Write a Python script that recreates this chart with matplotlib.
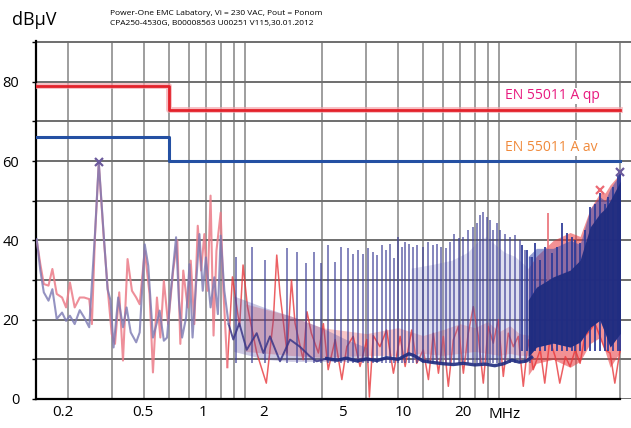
import numpy as np
import matplotlib
matplotlib.use('Agg')
import matplotlib.pyplot as plt
from matplotlib.ticker import NullLocator

plt.rcParams['font.family'] = ['Open Sans', 'DejaVu Sans']

# ---------------- data (MHz, dBuV) ----------------
lim_f = [0.15, 0.5, 30.0]
qp_limit = [79, 73, 73]
av_limit = [66, 60, 60]

# low-frequency part, average-type trace (blue)
f_av_lo = [0.151, 0.156, 0.161, 0.168, 0.174, 0.181, 0.190, 0.197, 0.204, 0.213,
           0.223, 0.232, 0.243, 0.256, 0.265, 0.277, 0.287, 0.295, 0.303, 0.316,
           0.330, 0.341, 0.354, 0.372, 0.384, 0.402, 0.415, 0.433, 0.449, 0.460,
           0.478, 0.492, 0.508, 0.534, 0.548, 0.564, 0.585, 0.603, 0.620, 0.640,
           0.660, 0.680, 0.700, 0.730, 0.755, 0.780, 0.800, 0.827, 0.860]
av_lo = [40.3, 32.4, 26.9, 24.8, 27.7, 20.2, 21.8, 19.7, 21.0, 18.9,
         22.4, 20.6, 18.1, 41.6, 59.7, 41.6, 27.7, 24.8, 13.0, 25.6,
         18.1, 23.1, 16.8, 14.3, 16.8, 39.0, 33.6, 15.5, 19.3, 22.3,
         14.7, 15.5, 26.5, 40.8, 24.8, 15.5, 20.6, 34.0, 15.5, 29.0,
         41.6, 27.3, 35.7, 23.1, 30.7, 21.4, 41.2, 27.3, 18.9]

# low-frequency part, peak-type trace (red)
f_qp_lo = [0.151, 0.156, 0.161, 0.168, 0.174, 0.181, 0.190, 0.197, 0.204, 0.213,
           0.223, 0.232, 0.243, 0.249, 0.256, 0.265, 0.277, 0.287, 0.298, 0.307,
           0.319, 0.330, 0.344, 0.358, 0.372, 0.384, 0.402, 0.420, 0.433, 0.449,
           0.463, 0.478, 0.497, 0.520, 0.540, 0.555, 0.570, 0.593, 0.610, 0.630,
           0.650, 0.670, 0.690, 0.710, 0.730, 0.750, 0.770, 0.800, 0.820, 0.850]
qp_lo = [40.0, 34.0, 29.0, 28.6, 32.8, 26.5, 25.6, 23.1, 29.4, 23.1,
         25.6, 25.6, 25.2, 18.9, 41.0, 59.5, 41.0, 28.2, 16.4, 13.9,
         26.9, 9.7, 35.3, 27.3, 25.6, 23.9, 37.4, 26.5, 6.7, 25.6,
         15.5, 29.8, 18.9, 32.4, 40.0, 13.9, 32.4, 23.1, 34.9, 18.9,
         43.7, 32.4, 41.6, 27.3, 51.3, 16.0, 37.4, 47.0, 27.3, 8.0]

# blue trace 0.9-2 MHz (noisy) and its floor 2-13 MHz
f_av_mid1 = [0.860, 0.897, 0.947, 1.013, 1.109, 1.178, 1.251, 1.370, 1.50, 1.64,
             1.80, 1.91, 2.09]
av_mid1 = [18.9, 15.0, 19.1, 12.4, 16.6, 11.6, 15.8, 9.5, 15.0, 13.2,
           10.7, 9.5, 10.2]
f_av_mid2 = [2.09, 2.3, 2.5, 2.75, 3.0, 3.3, 3.6, 4.0, 4.4, 4.6,
             5.0, 5.5, 6.0, 6.6, 7.2, 8.0, 8.8, 9.6, 10.4, 11.2,
             12.0, 12.8, 13.4]
av_mid2 = [10.2, 9.8, 10.3, 9.6, 10.1, 9.7, 10.4, 10.0, 11.4, 11.0,
           9.6, 9.2, 8.9, 8.7, 9.0, 8.6, 8.8, 8.4, 8.9, 9.8,
           9.3, 9.6, 10.5]

# purple noise mess 0.9-3 MHz
f_pn = [0.9, 1.2, 1.5, 2.0, 2.5, 3.0]
pn_lo = [12, 10, 9.5, 9.5, 9.5, 9.5]
pn_hi = [26, 23, 21, 18, 15, 13]

# blue harmonic spikes
f_spk = [0.92, 1.06, 1.196, 1.456, 1.594, 1.734, 1.865, 1.987, 2.112, 2.256,
         2.382, 2.530, 2.649, 2.771, 2.900, 3.034, 3.175, 3.293, 3.444, 3.573,
         3.714, 3.851, 3.982, 4.129, 4.255, 4.412, 4.563, 4.731, 5.009, 5.241,
         5.484, 5.687, 5.897, 6.171, 6.399, 6.635, 6.942, 7.199, 7.533, 7.883,
         8.174, 8.397, 8.628, 8.948, 9.194, 9.447, 9.797, 10.07, 10.53, 11.02,
         11.53, 12.07, 12.63, 13.21]
spk_top = [35.9, 38.4, 35.0, 38.0, 37.1, 34.2, 37.1, 34.2, 38.8, 34.6,
           38.4, 38.0, 36.7, 37.5, 36.7, 38.0, 37.1, 36.3, 38.8, 37.5,
           39.2, 35.5, 40.9, 38.4, 39.6, 39.2, 38.4, 38.8, 38.4, 39.6,
           38.8, 39.2, 38.4, 38.0, 39.6, 41.7, 40.5, 40.9, 42.6, 43.4,
           44.3, 46.4, 47.2, 45.9, 45.1, 42.6, 44.3, 42.6, 41.7, 40.9,
           41.3, 40.1, 37.6, 35.9]

# lavender haze between dense spikes
f_haze = [4.5, 5.5, 6.5, 7.5, 8.3, 8.9, 9.6, 10.5, 11.5, 12.5, 13.4]
haze_hi = [33, 34, 35, 37, 40, 41, 39, 37, 36, 34, 32]

# red trace above 0.9 MHz
f_qp_mid = [0.85, 0.89, 0.95, 0.98, 1.02, 1.11, 1.21, 1.29, 1.33, 1.37, 1.46,
            1.52, 1.57, 1.69, 1.75, 1.82, 1.94, 2.03, 2.12, 2.26, 2.40,
            2.51, 2.66, 2.83, 3.01, 3.08, 3.19, 3.39, 3.60, 3.83, 4.07,
            4.26, 4.52, 4.73, 5.02, 5.26, 5.50, 5.76, 6.02, 6.30, 6.59,
            6.90, 7.22, 7.55, 7.90, 8.27, 8.65, 9.05, 9.47, 9.91, 10.37,
            10.85, 11.36, 11.88, 12.43, 13.01, 13.6, 14.5, 15.1, 15.8, 16.6,
            17.3, 18.2, 19.0, 19.9, 20.8, 21.7, 22.8, 23.8, 24.9, 26.1,
            27.3, 28.5, 29.9]
qp_mid = [8.0, 30.8, 18.3, 33.8, 23.3, 11.6, 4.0, 20.0, 36.3, 26.6, 11.6,
          30.0, 19.1, 9.9, 22.0, 16.6, 11.6, 19.0, 7.4, 15.0, 4.9,
          13.2, 15.8, 8.2, 15.0, 0.5, 16.0, 13.2, 17.4, 6.5, 15.8,
          8.2, 17.4, 9.0, 12.4, 4.9, 16.6, 6.5, 15.8, 3.2, 14.9,
          18.3, 6.5, 16.6, 23.3, 15.8, 4.0, 18.3, 14.1, 20.0, 5.7,
          16.6, 13.2, 15.8, 3.2, 14.9, 7.4, 12.4, 4.0, 14.9, 10.7,
          4.0, 10.7, 8.2, 12.4, 9.0, 15.8, 17.4, 19.1, 15.8, 12.4,
          11.6, 4.0, 12.4]

# red noise band 1-13 MHz
f_rband = [1.0, 1.5, 2.0, 3.0, 4.0, 5.0, 6.0, 7.0, 8.0, 9.0, 10.0, 11.0, 12.0, 13.4]
rband_lo = [12, 11, 10.5, 11, 11, 11.5, 11, 11.5, 12, 11.5, 11, 11.5, 11, 11]
rband_hi = [24, 21, 18, 16.5, 18, 16, 17.5, 19, 18, 19.5, 17, 18.5, 16.5, 16]

# dense region 13-30 MHz
f_band = [13.0, 14.0, 16.3, 19.0, 20.8, 22.8, 24.9, 26.1, 27.3, 30.0]
band_lo = [10.6, 13.1, 14.1, 13.1, 14.4, 18.1, 19.9, 16.6, 13.1, 16.6]
band_hi = [25.0, 28.2, 30.8, 32.5, 35.0, 43.4, 46.8, 48.0, 50.0, 55.0]
band_env = [36.0, 38.0, 38.0, 40.0, 39.0, 48.0, 51.0, 50.0, 53.0, 57.0]
rdense_lo = [6.0, 9.0, 10.0, 8.0, 9.5, 14.0, 15.5, 12.0, 8.0, 12.0]
rdense_hi = [33.0, 36.0, 40.0, 42.0, 41.0, 48.0, 52.0, 52.0, 54.0, 57.0]

f_dspk = [12.25, 12.83, 13.42, 13.83, 14.46, 15.14, 16.1, 16.8, 17.6, 18.4,
          19.3, 19.9, 20.8, 21.7, 22.8, 23.8, 24.9, 26.1, 26.9, 28.1,
          29.4, 30.0]
dspk_top = [38.8, 37.5, 35.8, 39.3, 35.0, 38.3, 36.8, 38.3, 44.3, 41.8,
            40.8, 40.0, 39.3, 42.6, 48.4, 49.3, 51.9, 49.3, 50.9, 53.4,
            56.4, 57.2]
f_rspk = [15.6]
rspk_top = [46.8]

# marked maxima
mk_av_f, mk_av_v = [0.265, 29.8], [59.7, 57.2]
mk_qp_f, mk_qp_v = [24.9], [52.6]

tick_vals = [0.2, 0.5, 1, 2, 5, 10, 20]
tick_labels = ['0.2', '0.5', '1', '2', '5', '10', '20']
y_ticks = list(range(0, 91, 10))
y_labels = ['0', '', '20', '', '40', '', '60', '', '80', '']

# ---------------- figure ----------------
W, H = 631, 428
fig = plt.figure(figsize=(W / 100, H / 100), dpi=100)
ax = fig.add_axes([36 / W, 29 / H, 595 / W, 358 / H])
ax.set_xscale('log')
ax.set_xlim(0.15, 33.0)
ax.set_ylim(0, 90.3)
ax.set_axisbelow(True)

ax.grid(True, which='both', axis='x', color='#8e8e8e', lw=1.2)
ax.set_yticks(y_ticks)
ax.set_yticklabels(y_labels)
ax.grid(True, which='major', axis='y', color='#6e6e6e', lw=1.4)
ax.tick_params(axis='x', which='both', length=0, labelbottom=False)
ax.tick_params(axis='y', length=3, width=1, pad=9, labelsize=10.5, color='black')
for s in ['top', 'right']:
    ax.spines[s].set_visible(False)
ax.spines['left'].set_linewidth(1.6)
ax.spines['bottom'].set_linewidth(1.6)
ax.spines['bottom'].set_bounds(0.15, 30)

red = '#e8383c'
navy = '#1f2c80'

# red trace layers
ax.fill_between(f_rband, rband_lo, rband_hi, color=red, alpha=0.28, lw=0, zorder=2)
ax.fill_between(f_band, rdense_lo, rdense_hi, color=red, alpha=0.55, lw=0, zorder=2)
ax.vlines(f_rspk, 20, rspk_top, color='#ec7a80', lw=1.3, zorder=2)
ax.plot(f_qp_mid, qp_mid, color=red, lw=1.1, alpha=0.8, zorder=3)
ax.plot(f_qp_lo, qp_lo, color='#ec7c88', lw=1.5, alpha=0.85, zorder=3)

# blue trace layers
ax.fill_between(f_pn, pn_lo, pn_hi, color='#5a4ea0', alpha=0.3, lw=0, zorder=4)
ax.fill_between(f_haze, 10, haze_hi, color='#8a8ac8', alpha=0.28, lw=0, zorder=4)
ax.vlines(f_spk, 9, spk_top, color='#3c3e96', lw=1.1, alpha=0.8, zorder=4)
ax.plot(f_av_mid1, av_mid1, color='#3a3688', lw=1.4, alpha=0.85, zorder=5)
ax.plot(f_av_mid2, av_mid2, color=navy, lw=2.4, alpha=0.9, zorder=5)
ax.fill_between(f_band, band_lo, band_env, color='#3f4fae', alpha=0.55, lw=0, zorder=5)
ax.vlines(f_dspk, 12, dspk_top, color='#2c3a98', lw=1.4, alpha=0.9, zorder=5)
ax.fill_between(f_band, band_lo, band_hi, color=navy, alpha=0.95, lw=0, zorder=5)
ax.plot(f_av_lo, av_lo, color='#7a78b2', lw=1.5, alpha=0.8, zorder=5)

ax.plot(mk_av_f, mk_av_v, ls='none', marker='x', ms=6, mew=1.6, color='#6b5a9c', zorder=6)
ax.plot(mk_qp_f, mk_qp_v, ls='none', marker='x', ms=6, mew=1.6, color='#ec6a74', zorder=6)

# limit lines
ax.plot(lim_f, qp_limit, drawstyle='steps-post', color='#f5a3aa', lw=4.2, alpha=0.7, zorder=7)
ax.plot(lim_f, qp_limit, drawstyle='steps-post', color='#e3222b', lw=2.0, zorder=8)
ax.plot(lim_f, av_limit, drawstyle='steps-post', color='#2450a3', lw=2.2, zorder=8)

ax.text((505 - 36) / 595, (399 - 96) / 358, 'EN 55011 A qp', color='#e8197e', fontsize=10,
        transform=ax.transAxes, ha='left', va='center', zorder=9,
        bbox=dict(facecolor='white', edgecolor='none', pad=0.5))
ax.text((505 - 36) / 595, (399 - 148) / 358, 'EN 55011 A av', color='#f08a3c', fontsize=10,
        transform=ax.transAxes, ha='left', va='center', zorder=9,
        bbox=dict(facecolor='white', edgecolor='none', pad=0.5))

# tick labels on their own log scale
ax2 = ax.twiny()
ax2.set_xscale('log')
ax2.set_xlim(0.1462, 138.0)
ax2.xaxis.set_ticks_position('bottom')
ax2.set_xticks(tick_vals)
ax2.set_xticklabels(tick_labels)
ax2.xaxis.set_minor_locator(NullLocator())
ax2.tick_params(axis='x', length=0, pad=4, labelsize=11)
for s in ax2.spines.values():
    s.set_visible(False)

fig.text(505 / W, 1 - 414 / H, 'MHz', fontsize=11, ha='center', va='center')
fig.text(12 / W, 1 - 20 / H, 'dBµV', fontsize=13, ha='left', va='center')
fig.text(110 / W, 1 - 13.5 / H, 'Power-One EMC Labatory, Vi = 230 VAC, Pout = Ponom',
         fontsize=6, ha='left', va='center')
fig.text(110 / W, 1 - 23.5 / H, 'CPA250-4530G, B00008563 U00251 V115,30.01.2012',
         fontsize=6, ha='left', va='center')

fig.savefig('out.png', dpi=100)
